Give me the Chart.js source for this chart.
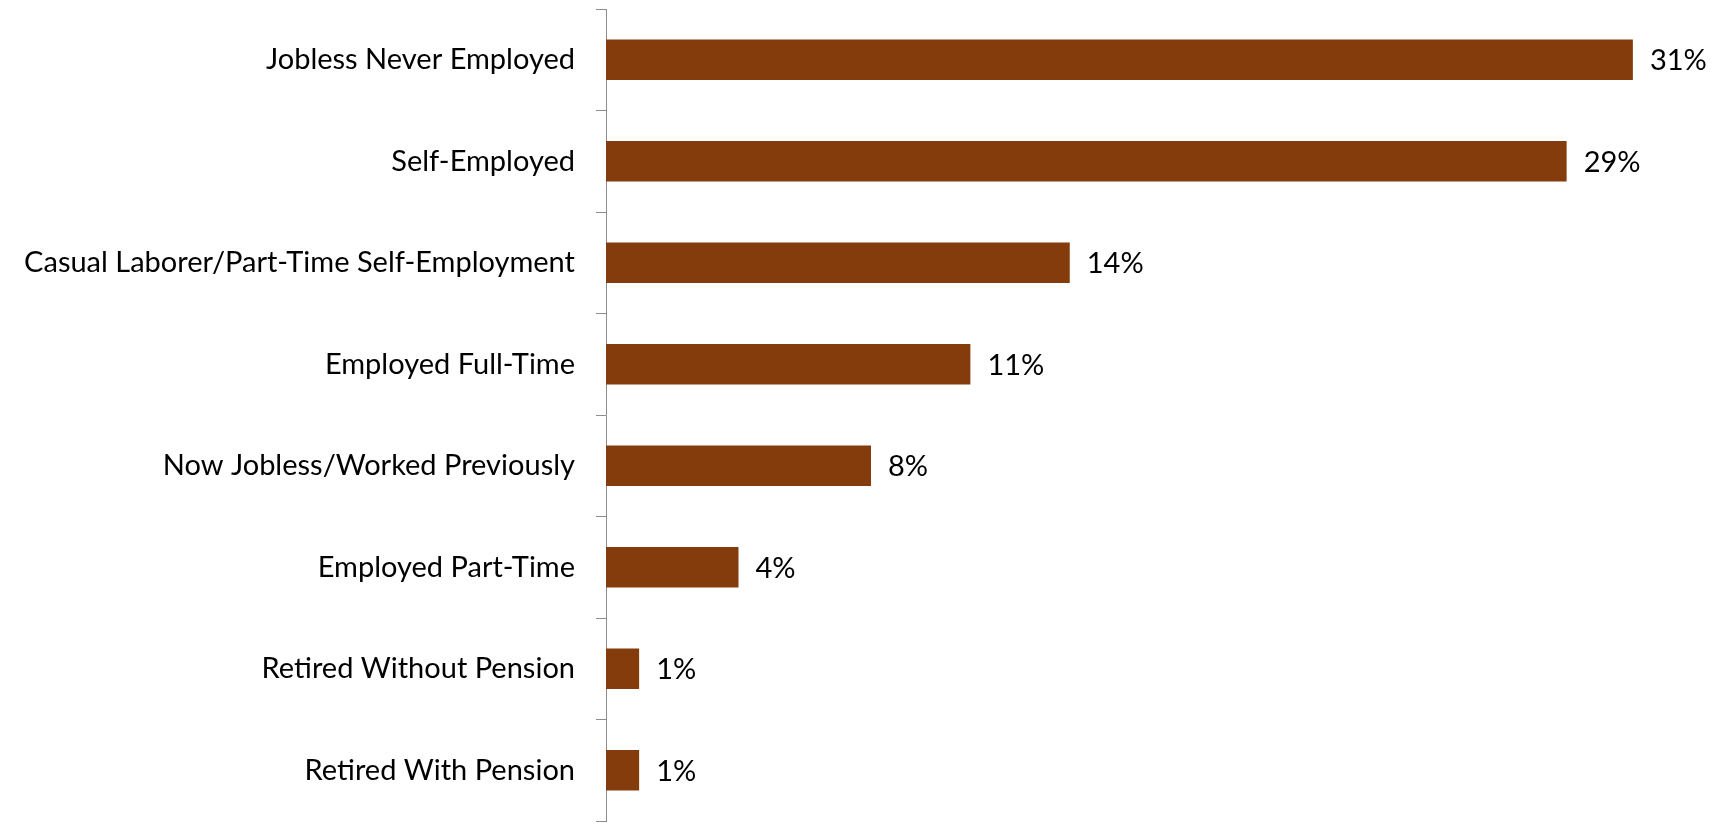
<!DOCTYPE html>
<html>
<head>
<meta charset="utf-8">
<script src="https://cdn.jsdelivr.net/npm/chart.js@4"></script>
<style>
  html, body { margin: 0; padding: 0; background: #fff; }
  #wrap { width: 1711px; height: 823px; }
</style>
</head>
<body>
<div id="wrap"><canvas id="chart"></canvas></div>
<script>
// employment status shares, percent
const categories = [
  'Jobless Never Employed',
  'Self-Employed',
  'Casual Laborer/Part-Time Self-Employment',
  'Employed Full-Time',
  'Now Jobless/Worked Previously',
  'Employed Part-Time',
  'Retired Without Pension',
  'Retired With Pension'
];
const shares = [31, 29, 14, 11, 8, 4, 1, 1];
const shareLabels = ['31%', '29%', '14%', '11%', '8%', '4%', '1%', '1%'];

const FONT = 'Lato, "Open Sans", sans-serif';
const AXIS = '#8c8c8c';

// value labels just past the end of each bar
const barLabels = {
  id: 'barLabels',
  afterDatasetsDraw(chart) {
    const { ctx } = chart;
    const meta = chart.getDatasetMeta(0);
    ctx.save();
    ctx.font = '29px ' + FONT;
    ctx.fillStyle = '#000';
    ctx.textAlign = 'left';
    ctx.textBaseline = 'middle';
    meta.data.forEach((bar, i) => {
      ctx.fillText(shareLabels[i], bar.x + 17, bar.y + 1);
    });
    ctx.restore();
  }
};

new Chart(document.getElementById('chart'), {
  type: 'bar',
  data: {
    labels: categories,
    datasets: [{
      data: shares,
      backgroundColor: '#843C0C',
      borderWidth: 0,
      categoryPercentage: 1,
      barPercentage: 0.4
    }]
  },
  plugins: [barLabels],
  options: {
    indexAxis: 'y',
    responsive: true,
    maintainAspectRatio: false,
    animation: false,
    layout: { padding: { top: 9, bottom: 2, left: 0, right: 45 } },
    plugins: {
      legend: { display: false },
      tooltip: { enabled: false }
    },
    scales: {
      x: {
        display: false,
        min: 0,
        max: 32
      },
      y: {
        afterFit(scale) {
          scale.width = 606;
          // labels sit between the ticks, no extra room needed above/below
          scale.paddingTop = 0;
          scale.paddingBottom = 0;
        },
        grid: {
          offset: true,
          drawOnChartArea: false,
          drawTicks: true,
          tickLength: 10,
          color: AXIS,
          lineWidth: 1
        },
        border: { display: true, color: AXIS, width: 1 },
        ticks: {
          color: '#000',
          padding: 21,
          font: { family: FONT, size: 29 }
        }
      }
    }
  }
});
</script>
</body>
</html>
